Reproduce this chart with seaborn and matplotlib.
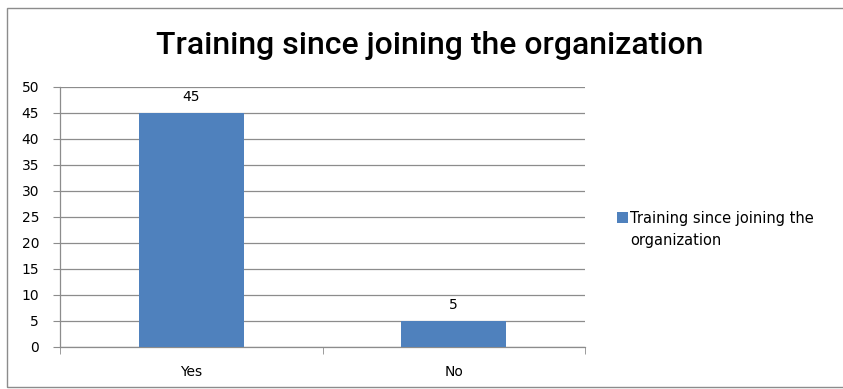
import matplotlib
matplotlib.use("Agg")
import matplotlib.pyplot as plt
import seaborn as sns
import pandas as pd
from matplotlib.patches import Rectangle, Patch

categories = ["Yes", "No"]
values = [45, 5]
series_name = "Training since joining the organization"

df = pd.DataFrame({"answer": categories, "count": values})

sns.set_style("white")
plt.rcParams["font.family"] = ["DejaVu Sans"]
plt.rcParams["text.color"] = "black"
plt.rcParams["xtick.color"] = "black"
plt.rcParams["ytick.color"] = "black"

fig = plt.figure(figsize=(8.43, 3.89), dpi=100)
ax = fig.add_axes([60/843, 1-347/389, 525/843, 260/389])

sns.barplot(data=df, x="answer", y="count", color="#4F81BD", width=0.4,
            saturation=1, edgecolor="none", ax=ax, zorder=3)

ax.set_xlim(-0.5, 1.5)
ax.set_ylim(0, 50)
ax.set_yticks(range(0, 51, 5))
ax.yaxis.grid(True, color="#8c8c8c", linewidth=0.9, zorder=0)
ax.set_xlabel("")
ax.set_ylabel("")

for s in ["top", "right"]:
    ax.spines[s].set_visible(False)
for s in ["left", "bottom"]:
    ax.spines[s].set_color("#8c8c8c")
    ax.spines[s].set_linewidth(0.9)

ax.tick_params(axis="y", length=5, color="#8c8c8c", labelcolor="black",
               labelsize=10, pad=10, left=True)
ax.tick_params(axis="x", length=0, labelsize=10, labelcolor="black", pad=13)
# category separators on x axis
ax.set_xticks([-0.5, 0.5, 1.5], minor=True)
ax.tick_params(axis="x", which="minor", length=5, color="#8c8c8c", bottom=True)

for i, v in enumerate(values):
    ax.text(i, v + 1.8, str(v), ha="center", va="bottom", fontsize=10, color="black")

fig.text(430/843, 1-45/389, series_name, ha="center", va="center",
         fontsize=23, fontweight="medium", family="Roboto", color="black")

handle = Patch(facecolor="#4F81BD", edgecolor="none")
leg = fig.legend([handle], ["Training since joining the"],
                 loc="center left", bbox_to_anchor=(610/843, 1-218/389),
                 frameon=False, fontsize=10.5, handlelength=0.7, handleheight=0.7,
                 handletextpad=0.2, borderpad=0, labelcolor="black")
fig.text(630/843, 1-240/389, "organization", ha="left", va="center",
         fontsize=10.5, color="black")

fig.patches.append(Rectangle((7/843, 2/389), 1.0, 1-10/389, transform=fig.transFigure,
                             fill=False, edgecolor="#8c8c8c", linewidth=1))

fig.savefig("out.png", dpi=100)
